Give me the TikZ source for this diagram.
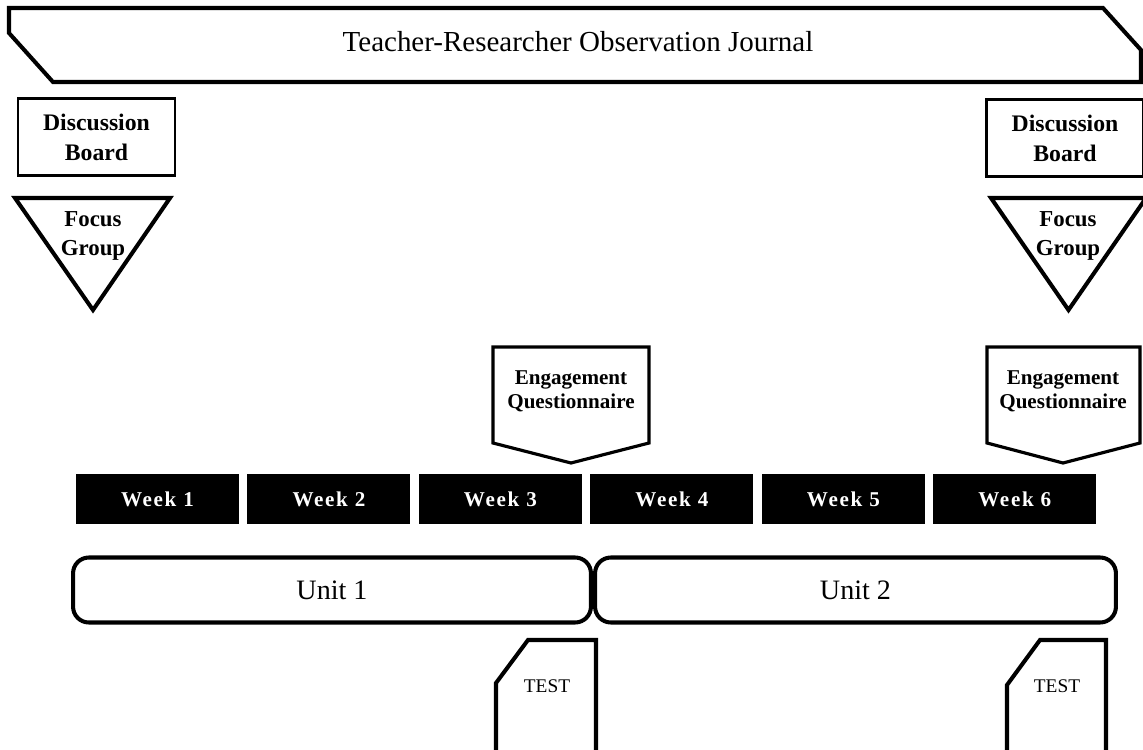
\documentclass[tikz,border=0pt]{standalone}
\usepackage{fontspec}
\setmainfont{Liberation Serif}
\newfontfamily\weekfont[LetterSpace=8]{Liberation Serif}
\usetikzlibrary{positioning}

\begin{document}
\begin{tikzpicture}[x=0.02cm,y=-0.02cm,node distance=3.43cm,
  weekbox/.style={fill=black,text=white,minimum width=3.26cm,minimum height=1cm,inner sep=0pt,font=\weekfont\bfseries\fontsize{12}{14}\selectfont},
  unitbox/.style={draw,line width=2.3pt,rounded corners=9pt,minimum height=1.3cm,inner sep=0pt,font=\fontsize{16}{19}\selectfont},
  boardbox/.style={draw,line width=1.2pt,minimum width=3.14cm,minimum height=1.54cm,inner sep=0pt,align=center,font=\bfseries\fontsize{13.5}{17}\selectfont},
  shapetext/.style={align=center,inner sep=0pt,font=\bfseries\fontsize{13}{16}\selectfont},
  qtext/.style={align=center,inner sep=0pt,font=\bfseries\fontsize{12}{13.5}\selectfont},
  testtext/.style={inner sep=0pt,font=\fontsize{11}{13}\selectfont},
  thickline/.style={line width=2.3pt,line join=miter}]

  \useasboundingbox (0,0) rectangle (1143,750);

  % journal banner
  \draw[thickline] (9,8) -- (1103,8) -- (1141,50) -- (1141,82) -- (53,82) -- (9,33) -- cycle;
  \node[inner sep=0pt,font=\fontsize{16.5}{19}\selectfont] (J) at (578,42) {Teacher-Researcher Observation Journal};

  % discussion boards
  \node[boardbox] (DB1) at (96.5,137) {Discussion\\Board};
  \node[boardbox] (DB2) at (1065,138) {Discussion\\Board};

  % focus groups
  \draw[thickline] (15,198) -- (170,198) -- (93,310) -- cycle;
  \node[shapetext] (FG1) at (93,236) {Focus\\Group};
  \draw[thickline] (991,198) -- (1146,198) -- (1068.5,310) -- cycle;
  \node[shapetext] (FG2) at (1068,236) {Focus\\Group};

  % questionnaires
  \draw[line width=1.8pt] (493,347) -- (649,347) -- (649,443) -- (571,463) -- (493,443) -- cycle;
  \node[qtext] (EQ1) at (571,391) {Engagement\\Questionnaire};
  \draw[line width=1.8pt] (987,347) -- (1140,347) -- (1140,443) -- (1063,463) -- (987,443) -- cycle;
  \node[qtext] (EQ2) at (1063,391) {Engagement\\Questionnaire};

  % weeks
  \node[weekbox] (W1) at (157.5,499) {Week 1};
  \node[weekbox] (W2) [right of=W1] {Week 2};
  \node[weekbox] (W3) [right of=W2] {Week 3};
  \node[weekbox] (W4) [right of=W3] {Week 4};
  \node[weekbox] (W5) [right of=W4] {Week 5};
  \node[weekbox] (W6) [right of=W5] {Week 6};

  % units
  \node[unitbox,minimum width=10.36cm] (U1) at (332,590) {Unit 1};
  \node[unitbox,minimum width=10.42cm] (U2) at (855.5,590) {Unit 2};

  % tests
  \draw[thickline] (496,770) -- (496,683) -- (528,640) -- (596,640) -- (596,770);
  \node[testtext] (T1) at (547,686) {TEST};
  \draw[thickline] (1007,770) -- (1007,685) -- (1040,640) -- (1106,640) -- (1106,770);
  \node[testtext] (T2) at (1057,686) {TEST};

\end{tikzpicture}
\end{document}
